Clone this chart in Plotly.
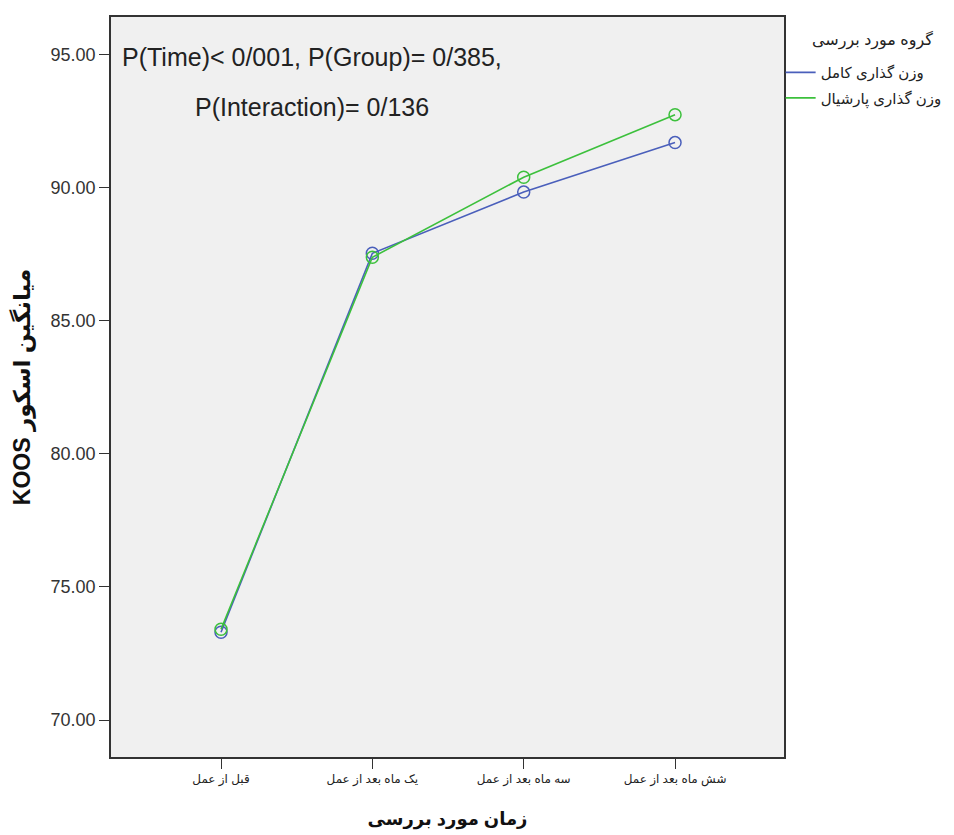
import plotly.graph_objects as go

categories = ["قبل از عمل", "یک ماه بعد از عمل", "سه ماه بعد از عمل", "شش ماه بعد از عمل"]
full_weight = [73.30, 87.54, 89.84, 91.70]
partial_weight = [73.41, 87.39, 90.40, 92.75]
series_names = ["وزن گذاری کامل", "وزن گذاری پارشیال"]
series_colors = ["#4a5fbb", "#3cc03c"]
legend_title = "گروه مورد بررسی"
y_ticks = [70, 75, 80, 85, 90, 95]
y_tick_labels = ["70.00", "75.00", "80.00", "85.00", "90.00", "95.00"]

FONT = "Liberation Sans, DejaVu Sans, Arial, sans-serif"
x_idx = list(range(len(categories)))

fig = go.Figure()
for name, vals, col in zip(series_names, [full_weight, partial_weight], series_colors):
    fig.add_trace(go.Scatter(
        x=x_idx, y=vals, name=name, mode="lines+markers", showlegend=False,
        line=dict(color=col, width=1.6),
        marker=dict(symbol="circle-open", size=12, color=col, line=dict(width=1.5)),
    ))
for i, (name, col) in enumerate(zip(series_names, series_colors)):
    fig.add_trace(go.Scatter(
        x=[None], y=[None], name=name, mode="lines", legendgroup=f"g{i}",
        line=dict(color=col, width=1.8),
    ))

fig.add_annotation(text="P(Time)< 0/001, P(Group)= 0/385,", xref="paper", yref="paper",
                   x=0.2987, y=0.946, showarrow=False, xanchor="center", yanchor="middle",
                   font=dict(family=FONT, size=25, color="#222222"))
fig.add_annotation(text="P(Interaction)= 0/136", xref="paper", yref="paper",
                   x=0.2987, y=0.879, showarrow=False, xanchor="center", yanchor="middle",
                   font=dict(family=FONT, size=25, color="#222222"))
fig.add_annotation(text=legend_title, xref="paper", yref="paper",
                   x=1.2244, y=0.969, showarrow=False, xanchor="right", yanchor="middle",
                   font=dict(family=FONT, size=16, color="#222222"))

fig.update_layout(
    width=946, height=827,
    margin=dict(l=103, r=170, t=7, b=78),
    paper_bgcolor="white", plot_bgcolor="#f0f0f0",
    font=dict(family=FONT, color="#222222"),
    showlegend=True,
    legend=dict(
        x=0.995, xanchor="left", y=0.947, yanchor="top",
        font=dict(family=FONT, size=15, color="#222222"),
        bgcolor="rgba(0,0,0,0)", tracegroupgap=3,
    ),
    xaxis=dict(
        range=[-0.727, 3.72], tickmode="array", tickvals=x_idx, ticktext=categories,
        showgrid=False, zeroline=False, showline=True, mirror=True,
        linecolor="#333333", linewidth=1.6, ticks="outside", ticklen=10, tickcolor="#333333",
        tickfont=dict(family=FONT, size=12, color="#222222"),
        title=dict(text="<b>زمان مورد بررسی</b>", font=dict(family=FONT, size=18, color="#111111"), standoff=26),
    ),
    yaxis=dict(
        range=[68.61, 96.42], tickmode="array", tickvals=y_ticks, ticktext=y_tick_labels,
        showgrid=False, zeroline=False, showline=True, mirror=True,
        linecolor="#333333", linewidth=1.6, ticks="outside", ticklen=10, tickcolor="#333333",
        tickfont=dict(family=FONT, size=18, color="#333333"),
        title=dict(text="<b>\u202bمیانگین اسکور KOOS\u202c</b>", font=dict(family=FONT, size=23, color="#111111"), standoff=14),
    ),
)

fig.write_html("out.html")
